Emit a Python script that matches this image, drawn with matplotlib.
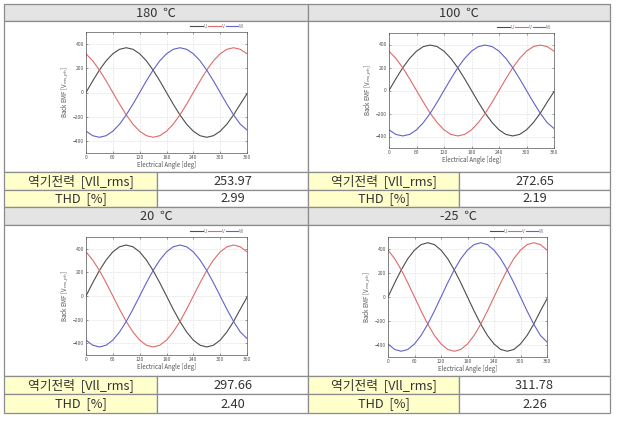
import matplotlib
matplotlib.use("Agg")
import matplotlib.pyplot as plt
from matplotlib.patches import Rectangle

plt.rcParams['font.family'] = ['Noto Sans CJK KR', 'DejaVu Sans']

# electrical angle samples [deg]
angle = [0, 15, 30, 45, 60, 75, 90, 105, 120, 135, 150, 165, 180,
         195, 210, 225, 240, 255, 270, 285, 300, 315, 330, 345, 360]

# back EMF [V]
u_180 = [0, 96, 185, 262, 320, 357, 370, 357, 320, 262, 185, 96, 0, -96, -185, -262, -320, -357, -370, -357, -320, -262, -185, -96, -10]
v_180 = [320, 262, 185, 96, 0, -96, -185, -262, -320, -357, -370, -357, -320, -262, -185, -96, 0, 96, 185, 262, 320, 357, 370, 357, 320]
w_180 = [-320, -357, -370, -357, -320, -262, -185, -96, 0, 96, 185, 262, 320, 357, 370, 357, 320, 262, 185, 96, 0, -96, -185, -262, -310]

u_100 = [0, 102, 198, 279, 342, 382, 395, 382, 342, 279, 198, 102, 0, -102, -198, -279, -342, -382, -395, -382, -342, -279, -198, -102, -10]
v_100 = [342, 279, 198, 102, 0, -102, -198, -279, -342, -382, -395, -382, -342, -279, -198, -102, 0, 102, 198, 279, 342, 382, 395, 382, 342]
w_100 = [-342, -382, -395, -382, -342, -279, -198, -102, 0, 102, 198, 279, 342, 382, 395, 382, 342, 279, 198, 102, 0, -102, -198, -279, -330]

u_20 = [0, 112, 216, 305, 374, 417, 432, 417, 374, 305, 216, 112, 0, -112, -216, -305, -374, -417, -432, -417, -374, -305, -216, -112, -10]
v_20 = [374, 305, 216, 112, 0, -112, -216, -305, -374, -417, -432, -417, -374, -305, -216, -112, 0, 112, 216, 305, 374, 417, 432, 417, 374]
w_20 = [-374, -417, -432, -417, -374, -305, -216, -112, 0, 112, 216, 305, 374, 417, 432, 417, 374, 305, 216, 112, 0, -112, -216, -305, -360]

u_m25 = [0, 117, 226, 320, 391, 437, 452, 437, 391, 320, 226, 117, 0, -117, -226, -320, -391, -437, -452, -437, -391, -320, -226, -117, -15]
v_m25 = [391, 320, 226, 117, 0, -117, -226, -320, -391, -437, -452, -437, -391, -320, -226, -117, 0, 117, 226, 320, 391, 437, 452, 437, 391]
w_m25 = [-391, -437, -452, -437, -391, -320, -226, -117, 0, 117, 226, 320, 391, 437, 452, 437, 391, 320, 226, 117, 0, -117, -226, -320, -375]

temps = ['180  ℃', '100  ℃', '20  ℃', '-25  ℃']
emf_rms = ['253.97', '272.65', '297.66', '311.78']
thd = ['2.99', '2.19', '2.40', '2.26']
series = [(u_180, v_180, w_180), (u_100, v_100, w_100),
          (u_20, v_20, w_20), (u_m25, v_m25, w_m25)]

W, H = 618, 421
fig = plt.figure(figsize=(W / 100, H / 100), dpi=100)
bg = fig.add_axes([0, 0, 1, 1])
bg.set_xlim(0, W)
bg.set_ylim(H, 0)
bg.axis('off')

edge = '#8c8c8c'

def cell(x0, y0, x1, y1, fc, text=None):
    bg.add_patch(Rectangle((x0, y0), x1 - x0, y1 - y0, facecolor=fc,
                           edgecolor=edge, linewidth=0.9))
    if text:
        bg.text((x0 + x1) / 2, (y0 + y1) / 2 + 0.5, text, ha='center',
                va='center', fontsize=9.2, color='#333333')

# block geometry: (x0, xsplit, x1) and (y header, chart, row1, row2, end)
cols = [(4, 157, 308), (308, 459, 610)]
rows = [(4, 21, 172, 190, 207), (207, 225, 376, 394, 413)]

# axes boxes in pixels: left, top, right, bottom
ax_px = [(86, 32, 247, 153), (389, 33, 554, 148),
         (86, 237, 247, 355), (388, 237, 547, 357)]

for i in range(4):
    cx0, cxs, cx1 = cols[i % 2]
    ry = rows[i // 2]
    cell(cx0, ry[0], cx1, ry[1], '#e4e4e4', temps[i])
    cell(cx0, ry[1], cx1, ry[2], 'white')
    cell(cx0, ry[2], cxs, ry[3], '#ffffcc', '역기전력  [Vll_rms]')
    cell(cxs, ry[2], cx1, ry[3], 'white', emf_rms[i])
    cell(cx0, ry[3], cxs, ry[4], '#ffffcc', 'THD  [%]')
    cell(cxs, ry[3], cx1, ry[4], 'white', thd[i])

    l, t, r, b = ax_px[i]
    ax = fig.add_axes([l / W, 1 - b / H, (r - l) / W, (b - t) / H])
    u, v, w = series[i]
    ax.plot(angle, u, color='#4d4d4d', lw=0.8, label='U')
    ax.plot(angle, v, color='#e06a6a', lw=0.8, label='V')
    ax.plot(angle, w, color='#6262cc', lw=0.8, label='W')
    ax.set_xlim(0, 360)
    ax.set_ylim(-500, 500)
    ax.set_xticks([0, 60, 120, 180, 240, 300, 360])
    ax.set_yticks([-400, -200, 0, 200, 400])
    ax.grid(True, color='#dcdcdc', linestyle='--', linewidth=0.4)
    ax.tick_params(labelsize=3.6, direction='in', length=1.5, width=0.4,
                   pad=1.5, colors='#555555', top=True, right=True)
    for s in ax.spines.values():
        s.set_linewidth(0.5)
        s.set_color('#555555')
    ax.set_xlabel('Electrical Angle [deg]', fontsize=4.4, labelpad=1,
                  color='#555555')
    ax.set_ylabel('Back EMF [V$_{ms\\_ph}$]', fontsize=4.4, labelpad=1,
                  color='#555555')
    ax.legend(loc='lower right', bbox_to_anchor=(1.0, 1.0), ncol=3,
              frameon=False, fontsize=3.5, handlelength=2.6,
              columnspacing=0.2, handletextpad=0.2, borderpad=0.2,
              labelcolor='#777777')

fig.savefig('out.png', dpi=100)
